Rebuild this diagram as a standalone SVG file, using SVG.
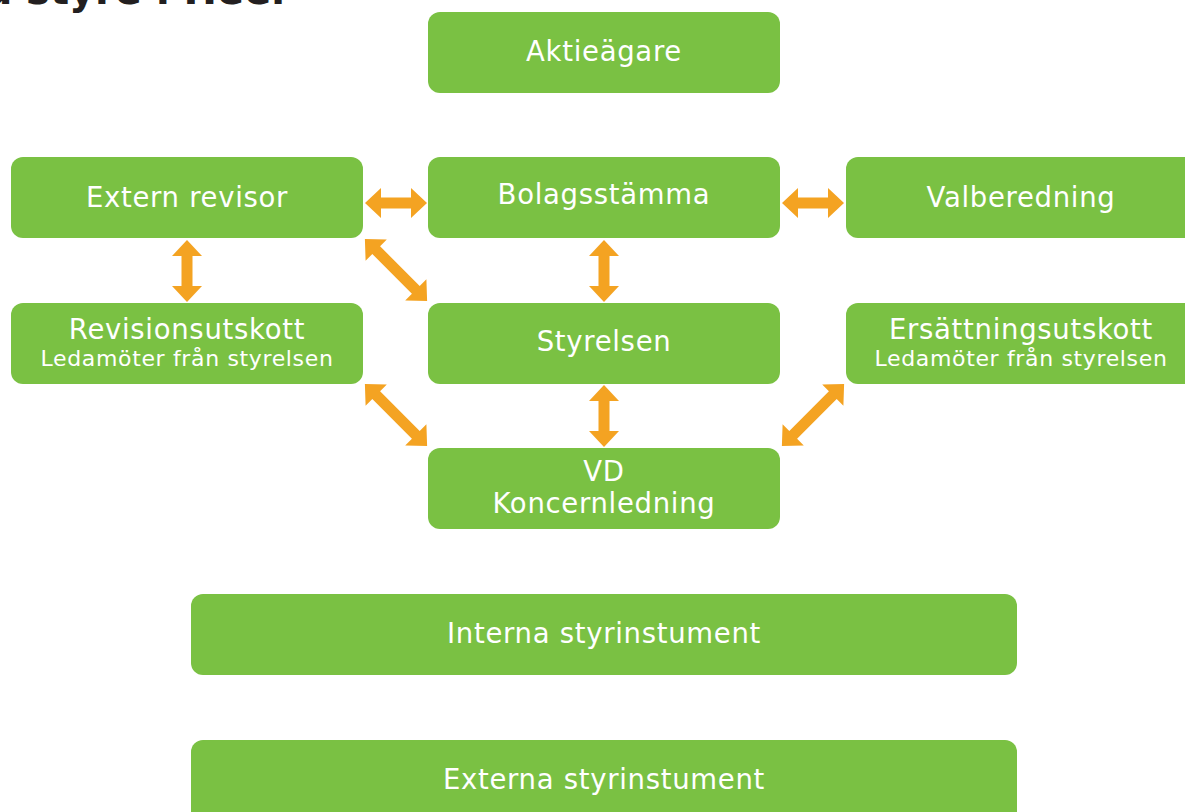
<svg xmlns="http://www.w3.org/2000/svg" width="1185" height="812" viewBox="0 0 1185 812">
<style>
.box{fill:#7AC143}
.t{fill:#fff;font-family:"DejaVu Sans","Liberation Sans",sans-serif;font-size:27.5px;letter-spacing:0.7px;text-anchor:middle}
.s{font-size:22px;letter-spacing:0.65px}
.arr{fill:#F4A322}
.title{fill:#231F20;font-family:"DejaVu Sans","Liberation Sans",sans-serif;font-weight:bold;font-size:40px;text-anchor:end}
</style>
<defs>
<polygon id="a62" points="-31,0 -15,-15 -15,-5.5 15,-5.5 15,-15 31,0 15,15 15,5.5 -15,5.5 -15,15"/>
<polygon id="a88" points="-44,0 -28,-15 -28,-5.5 28,-5.5 28,-15 44,0 28,15 28,5.5 -28,5.5 -28,15"/>
</defs>
<text class="title" x="291" y="4">a styre i Heer</text>
<g id="aktieagare"><rect class="box" x="428" y="12" width="352" height="81" rx="12"/><text class="t" x="604" y="61">Aktieägare</text></g>
<g id="extern-revisor"><rect class="box" x="11" y="157" width="352" height="81" rx="12"/><text class="t" x="187" y="207">Extern revisor</text></g>
<g id="bolagsstamma"><rect class="box" x="428" y="157" width="352" height="81" rx="12"/><text class="t" x="604" y="204">Bolagsstämma</text></g>
<g id="valberedning"><rect class="box" x="846" y="157" width="360" height="81" rx="12"/><text class="t" x="1021" y="207">Valberedning</text></g>
<g id="revisionsutskott"><rect class="box" x="11" y="303" width="352" height="81" rx="12"/><text class="t" x="187" y="339">Revisionsutskott</text><text class="t s" x="187" y="366">Ledamöter från styrelsen</text></g>
<g id="styrelsen"><rect class="box" x="428" y="303" width="352" height="81" rx="12"/><text class="t" x="604" y="351">Styrelsen</text></g>
<g id="ersattningsutskott"><rect class="box" x="846" y="303" width="360" height="81" rx="12"/><text class="t" x="1021" y="339">Ersättningsutskott</text><text class="t s" x="1021" y="366">Ledamöter från styrelsen</text></g>
<g id="vd"><rect class="box" x="428" y="448" width="352" height="81" rx="12"/><text class="t" x="604" y="481">VD</text><text class="t" x="604" y="513">Koncernledning</text></g>
<g id="interna"><rect class="box" x="191" y="594" width="826" height="81" rx="12"/><text class="t" x="604" y="643">Interna styrinstument</text></g>
<g id="externa"><rect class="box" x="191" y="740" width="826" height="90" rx="12"/><text class="t" x="604" y="789">Externa styrinstument</text></g>
<g id="connectors" class="arr">
<use href="#a62" transform="translate(396,203)"/>
<use href="#a62" transform="translate(813,203)"/>
<use href="#a62" transform="translate(187,271) rotate(90)"/>
<use href="#a62" transform="translate(604,271) rotate(90)"/>
<use href="#a62" transform="translate(604,416) rotate(90)"/>
<use href="#a88" transform="translate(396,270) rotate(45)"/>
<use href="#a88" transform="translate(396,415) rotate(45)"/>
<use href="#a88" transform="translate(813,415) rotate(-45)"/>
</g>
</svg>
